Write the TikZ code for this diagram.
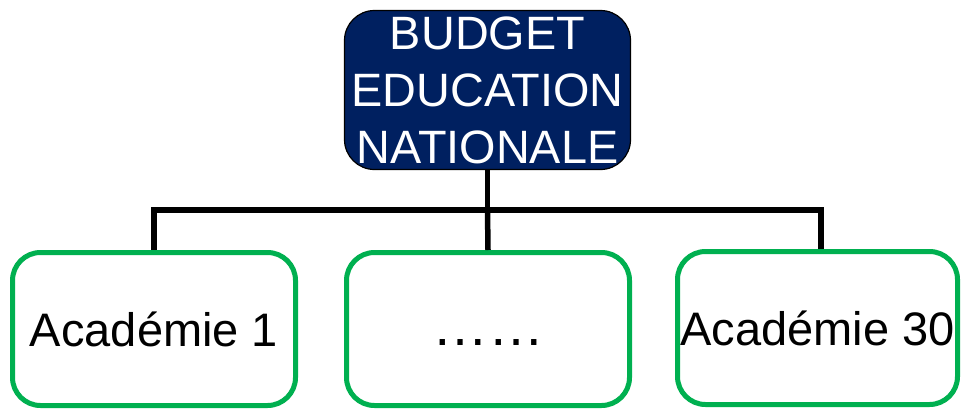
\documentclass[tikz,border=0pt]{standalone}
\usepackage{fontspec}
\setmainfont{Liberation Sans}
\definecolor{navy}{HTML}{002060}
\definecolor{grn}{HTML}{00B050}
\tikzset{
  topbox/.style={draw=black, line width=1.2pt, fill=navy, rounded corners=30pt,
    minimum width=286pt, minimum height=159pt, inner sep=0pt, text=white,
    align=center, font=\fontsize{46.8}{57}\selectfont},
  acbox/.style={draw=grn, line width=5pt, fill=white, rounded corners=28pt,
    minimum height=153pt, inner sep=0pt, font=\fontsize{47}{56}\selectfont},
  conn/.style={draw=black, line width=5.5pt, line join=miter}
}
\begin{document}
\begin{tikzpicture}[x=1pt,y=-1pt]
\useasboundingbox[fill=white] (0,0) rectangle (961,410);
\node[topbox] (top) at (487.5,90) {BUDGET\\EDUCATION\\NATIONALE};
\node[acbox, minimum width=283pt] (a1) at (154,329) {Académie 1};
\node[acbox, minimum width=283pt] (a2) at (488,329) {\fontsize{56}{60}\selectfont\vphantom{A}\raisebox{3pt}{……}};
\node[acbox, minimum width=280pt] (a3) at (817.5,328) {Académie 30};
\coordinate (bus) at (487.5,210);
\draw[conn] (top.south) -- (bus);
\draw[conn] (a1.north) |- (bus) -| ([xshift=3.5pt]a3.north);
\draw[conn] (bus) -- (a2.north);
\end{tikzpicture}
\end{document}
